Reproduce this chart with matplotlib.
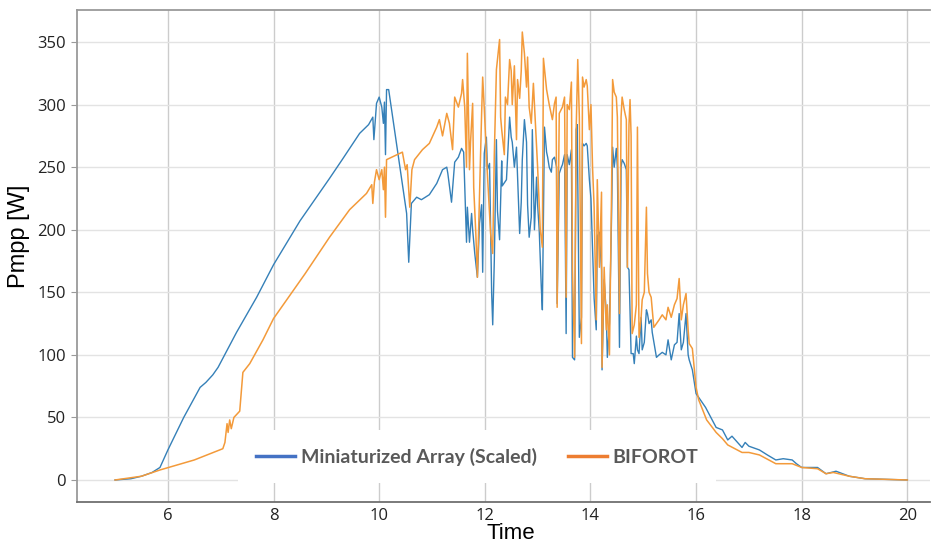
import matplotlib
matplotlib.use("Agg")
import matplotlib.pyplot as plt
from matplotlib.lines import Line2D

# (time [h], Pmpp [W])
mini_points = [
    (5.0, 0), (5.3, 1), (5.5, 3), (5.7, 6), (5.85, 10), (6.0, 24), (6.3, 50),
    (6.61, 74), (6.72, 78), (6.85, 84), (6.95, 90), (7.3, 118), (7.68, 146),
    (8.0, 172), (8.5, 207), (9.06, 241), (9.3, 256), (9.63, 277), (9.8, 284),
    (9.88, 290), (9.9, 272), (9.95, 301), (10.0, 306), (10.05, 298), (10.08, 285),
    (10.1, 302), (10.12, 260), (10.14, 312), (10.18, 312), (10.52, 213),
    (10.56, 174), (10.61, 221), (10.71, 226), (10.8, 224), (10.95, 228),
    (11.09, 237), (11.2, 248), (11.28, 250), (11.3, 245), (11.37, 222),
    (11.43, 254), (11.5, 258), (11.56, 265), (11.6, 262), (11.654, 190),
    (11.67, 218), (11.71, 190), (11.75, 213), (11.77, 200), (11.81, 181),
    (11.86, 162), (11.9, 205), (11.94, 220), (11.96, 166), (11.99, 261),
    (12.03, 274), (12.05, 248), (12.09, 253), (12.13, 149), (12.15, 124),
    (12.18, 175), (12.22, 272), (12.24, 215), (12.28, 192), (12.32, 255),
    (12.33, 235), (12.41, 240), (12.47, 290), (12.5, 274), (12.52, 270),
    (12.56, 250), (12.6, 266), (12.66, 197), (12.69, 222), (12.71, 256),
    (12.75, 288), (12.79, 270), (12.81, 220), (12.84, 194), (12.88, 210),
    (12.9, 280), (12.94, 200), (12.98, 242), (13.0, 220), (13.03, 200),
    (13.07, 154), (13.09, 136), (13.13, 282), (13.17, 262), (13.19, 258),
    (13.22, 250), (13.26, 246), (13.28, 256), (13.32, 258), (13.36, 250),
    (13.37, 141), (13.41, 245), (13.45, 250), (13.47, 252), (13.51, 260),
    (13.54, 117), (13.56, 260), (13.6, 252), (13.64, 264), (13.66, 98),
    (13.7, 96), (13.73, 280), (13.75, 284), (13.79, 114), (13.83, 130),
    (13.85, 269), (13.88, 267), (13.92, 269), (13.94, 267), (13.98, 240),
    (14.01, 225), (14.04, 186), (14.07, 145), (14.11, 120), (14.13, 195),
    (14.17, 198), (14.21, 168), (14.22, 88), (14.26, 160), (14.3, 133),
    (14.32, 98), (14.36, 125), (14.4, 210), (14.42, 266), (14.45, 250),
    (14.49, 265), (14.51, 250), (14.55, 106), (14.58, 250), (14.6, 256),
    (14.64, 253), (14.68, 248), (14.7, 170), (14.73, 168), (14.77, 101),
    (14.81, 101), (14.83, 93), (14.87, 115), (14.89, 104), (14.92, 101),
    (14.96, 130), (14.98, 104), (15.02, 110), (15.06, 136), (15.08, 133),
    (15.11, 125), (15.15, 128), (15.17, 118), (15.25, 98), (15.3, 100),
    (15.36, 102), (15.43, 100), (15.47, 112), (15.53, 96), (15.59, 108),
    (15.64, 110), (15.68, 133), (15.72, 104), (15.76, 110), (15.81, 133),
    (15.85, 100), (15.87, 96), (15.93, 88), (16.0, 69), (16.05, 66),
    (16.18, 58), (16.38, 42), (16.5, 40), (16.6, 32), (16.68, 35), (16.87, 26),
    (16.93, 30), (17.0, 27), (17.2, 24), (17.35, 20), (17.51, 16), (17.65, 17),
    (17.82, 16), (17.9, 13), (18.0, 10), (18.3, 10), (18.46, 5), (18.65, 7),
    (18.9, 3), (19.2, 1), (20.0, 0),
]

biforot_points = [
    (5.0, 0), (5.5, 3), (5.85, 8), (6.5, 16), (7.04, 25), (7.08, 30),
    (7.12, 45), (7.14, 38), (7.17, 48), (7.2, 41), (7.25, 50), (7.36, 55),
    (7.42, 86), (7.55, 93), (7.8, 112), (8.0, 129), (8.25, 144), (8.6, 165),
    (9.06, 194), (9.44, 216), (9.76, 229), (9.86, 236), (9.88, 221),
    (9.91, 238), (9.95, 248), (10.0, 240), (10.05, 248), (10.08, 232),
    (10.1, 250), (10.12, 210), (10.14, 256), (10.44, 262), (10.5, 248),
    (10.53, 252), (10.58, 218), (10.62, 248), (10.67, 256), (10.82, 264),
    (10.95, 269), (11.09, 282), (11.14, 288), (11.2, 275), (11.28, 293),
    (11.33, 285), (11.39, 264), (11.43, 306), (11.5, 298), (11.56, 309),
    (11.58, 320), (11.62, 298), (11.654, 250), (11.67, 341), (11.71, 248),
    (11.73, 270), (11.77, 301), (11.79, 234), (11.83, 197), (11.86, 162),
    (11.94, 293), (11.96, 322), (11.99, 297), (12.03, 260), (12.11, 197),
    (12.15, 181), (12.18, 260), (12.22, 328), (12.28, 352), (12.3, 290),
    (12.32, 280), (12.37, 260), (12.39, 306), (12.43, 300), (12.47, 336),
    (12.5, 327), (12.52, 300), (12.56, 331), (12.6, 272), (12.62, 320),
    (12.66, 305), (12.69, 327), (12.71, 358), (12.75, 341), (12.79, 314),
    (12.81, 338), (12.84, 298), (12.88, 285), (12.92, 317), (12.96, 283),
    (13.0, 250), (13.05, 200), (13.09, 186), (13.11, 337), (13.17, 312),
    (13.22, 300), (13.28, 288), (13.32, 301), (13.35, 306), (13.37, 138),
    (13.41, 293), (13.47, 298), (13.51, 306), (13.54, 146), (13.56, 300),
    (13.6, 296), (13.64, 318), (13.66, 168), (13.7, 98), (13.73, 280),
    (13.76, 336), (13.79, 290), (13.83, 109), (13.85, 322), (13.88, 314),
    (13.92, 320), (13.94, 315), (13.98, 280), (14.01, 300), (14.04, 250),
    (14.07, 218), (14.11, 128), (14.13, 240), (14.17, 170), (14.21, 230),
    (14.22, 90), (14.26, 170), (14.3, 120), (14.32, 140), (14.36, 100),
    (14.4, 230), (14.42, 320), (14.45, 310), (14.49, 306), (14.51, 290),
    (14.55, 133), (14.58, 290), (14.6, 306), (14.64, 296), (14.68, 288),
    (14.7, 170), (14.73, 284), (14.75, 304), (14.77, 275), (14.79, 117),
    (14.83, 124), (14.87, 140), (14.89, 282), (14.92, 114), (14.96, 130),
    (14.98, 144), (15.02, 150), (15.06, 218), (15.08, 165), (15.11, 150),
    (15.15, 146), (15.2, 122), (15.25, 125), (15.3, 128), (15.36, 132),
    (15.43, 128), (15.47, 138), (15.53, 130), (15.59, 140), (15.64, 145),
    (15.68, 161), (15.72, 128), (15.76, 140), (15.81, 149), (15.85, 120),
    (15.87, 109), (15.93, 105), (16.0, 74), (16.05, 64), (16.2, 48),
    (16.38, 38), (16.5, 33), (16.6, 28), (16.87, 22), (17.0, 22), (17.2, 20),
    (17.51, 13), (17.82, 13), (18.0, 10), (18.3, 9), (18.46, 5), (18.6, 6),
    (18.9, 3), (19.2, 1), (20.0, 0),
]

x_ticks = [6, 8, 10, 12, 14, 16, 18, 20]
y_ticks = [0, 50, 100, 150, 200, 250, 300, 350]
legend_labels = ["Miniaturized Array (Scaled)", "BIFOROT"]

mini_t, mini_p = zip(*mini_points)
bif_t, bif_p = zip(*biforot_points)

fig = plt.figure(figsize=(9.35, 5.44), dpi=100)
ax = fig.add_axes([0.0824, 0.0772, 0.9123, 0.9044])

ax.plot(bif_t, bif_p, color="#f39a3a", lw=1.1, zorder=3)
ax.plot(mini_t, mini_p, color="#3580b8", lw=1.0, zorder=2)

ax.set_xlim(4.28, 20.43)
ax.set_ylim(-17.6, 375.6)
ax.set_xticks(x_ticks)
ax.set_yticks(y_ticks)

ax.grid(axis="y", color="#e3e3e3", lw=1.0)
ax.grid(axis="x", color="#cccccc", lw=1.0)
ax.set_axisbelow(True)

for s in ["top", "left"]:
    ax.spines[s].set_color("#9a9a9a")
    ax.spines[s].set_linewidth(1.3)
ax.spines["bottom"].set_color("#707070")
ax.spines["bottom"].set_linewidth(1.3)
ax.spines["right"].set_visible(False)

ax.tick_params(axis="x", length=0, pad=4, labelsize=12, labelcolor="#222222")
ax.tick_params(axis="y", length=4, color="#9a9a9a", pad=4, labelsize=12,
               labelcolor="#222222")
for lab in ax.get_xticklabels() + ax.get_yticklabels():
    lab.set_family("Open Sans")

ax.set_xlabel("Time", fontsize=16, family="Liberation Sans")
ax.xaxis.set_label_coords(0.508, -0.042)
ax.set_ylabel("Pmpp [W]", fontsize=17, family="Liberation Sans")
ax.yaxis.set_label_coords(-0.055, 0.54)

handles = [Line2D([0], [0], color="#4472c4", lw=2.5),
           Line2D([0], [0], color="#ed7d31", lw=2.5)]
leg = ax.legend(handles, legend_labels, loc="center", bbox_to_anchor=(0.469, 0.092),
                ncol=2, frameon=True, fancybox=False, framealpha=1,
                edgecolor="none", facecolor="white", handlelength=2.0,
                handletextpad=0.3, columnspacing=1.6, borderpad=0.9,
                prop={"family": "Lato", "weight": "bold", "size": 14})
for t in leg.get_texts():
    t.set_color("#595959")
leg.set_zorder(1.5)

fig.savefig("out.png", dpi=100)
